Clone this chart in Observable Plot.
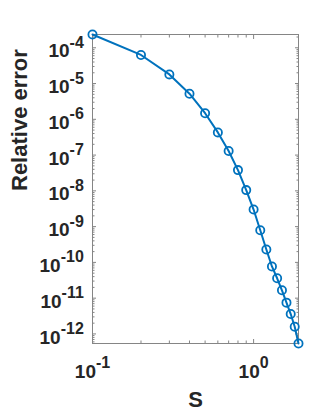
<!DOCTYPE html>
<html>
<head>
<meta charset="utf-8">
<script src="https://cdn.jsdelivr.net/npm/d3@7"></script>
<script src="https://cdn.jsdelivr.net/npm/@observablehq/plot@0.6"></script>
<style>
  html, body { margin: 0; padding: 0; background: #fff; }
  #chart { width: 332px; height: 416px; }
</style>
</head>
<body>
<div id="chart"></div>
<script>
// ---- data ----
const S = [0.1, 0.2, 0.3, 0.4, 0.5, 0.6, 0.7, 0.8, 0.9, 1.0, 1.1, 1.2, 1.3, 1.4, 1.5, 1.6, 1.7, 1.8, 1.9];
const relErr = [2.35e-4, 6.3e-5, 1.8e-5, 5.2e-6, 1.48e-6, 4.3e-7, 1.3e-7, 3.8e-8, 1.05e-8, 3.0e-9,
                7.9e-10, 2.3e-10, 7.7e-11, 3.6e-11, 1.66e-11, 7.5e-12, 3.6e-12, 1.58e-12, 5.4e-13];
const xTicks = [0.1, 1];
const yTicks = [1e-12, 1e-11, 1e-10, 1e-9, 1e-8, 1e-7, 1e-6, 1e-5, 1e-4];
const xLabel = "S";
const yLabel = "Relative error";

const data = S.map((s, i) => ({S: s, err: relErr[i]}));
const xDomain = d3.extent(S);
const yDomain = d3.extent(relErr);

// minor ticks of the log axes (2..9 times each decade, inside the domain)
const minorOf = (dom, d0, d1) => {
  const out = [];
  for (let d = d0; d <= d1; d++) for (let k = 2; k <= 9; k++) {
    const v = k * Math.pow(10, d);
    if (v > dom[0] && v < dom[1]) out.push(v);
  }
  return out;
};
const xMinor = minorOf(xDomain, -1, 0);
const yMinor = minorOf(yDomain, -13, -4);

const fmt = d => "10^" + Math.round(Math.log10(d));
const axisCol = "#858585";
const textCol = "#262626";
const blue = "#0072BD";

const chart = Plot.plot({
  width: 332,
  height: 416,
  marginLeft: 92,
  marginRight: 34,
  marginTop: 34,
  marginBottom: 73,
  style: {fontFamily: "'Liberation Sans', Arial, Helvetica, sans-serif", background: "#fff"},
  x: {type: "log", domain: xDomain},
  y: {type: "log", domain: yDomain},
  marks: [
    // inward ticks, all four sides
    Plot.axisY(yTicks, {anchor: "left", tickSize: -4, fill: "none", stroke: axisCol, label: null}),
    Plot.axisY(yTicks, {anchor: "right", tickSize: -4, fill: "none", stroke: axisCol, label: null}),
    Plot.axisY(yMinor, {anchor: "left", tickSize: -2.5, fill: "none", stroke: axisCol, label: null}),
    Plot.axisY(yMinor, {anchor: "right", tickSize: -2.5, fill: "none", stroke: axisCol, label: null}),
    Plot.axisX(xTicks, {anchor: "bottom", tickSize: -4, fill: "none", stroke: axisCol, label: null}),
    Plot.axisX(xTicks, {anchor: "top", tickSize: -4, fill: "none", stroke: axisCol, label: null}),
    Plot.axisX(xMinor, {anchor: "bottom", tickSize: -2.5, fill: "none", stroke: axisCol, label: null}),
    Plot.axisX(xMinor, {anchor: "top", tickSize: -2.5, fill: "none", stroke: axisCol, label: null}),
    // tick labels
    Plot.axisY(yTicks, {anchor: "left", tickSize: 0, tickPadding: 8.7, tickFormat: fmt,
      fontSize: 19, fontWeight: "bold", fill: textCol, dy: 3.5, label: null}),
    Plot.axisX(xTicks, {anchor: "bottom", tickSize: 0, tickPadding: 20.5, tickFormat: fmt,
      fontSize: 19, fontWeight: "bold", fill: textCol, label: null}),
    Plot.frame({stroke: axisCol, strokeWidth: 1}),
    // axis titles
    Plot.text([yLabel], {text: d => d, frameAnchor: "left", rotate: -90, dx: -66, dy: 2,
      lineAnchor: "bottom", fontSize: 22, fontWeight: "bold", fill: textCol}),
    Plot.text([xLabel], {text: d => d, frameAnchor: "bottom", dy: 63.3,
      lineAnchor: "bottom", fontSize: 22, fontWeight: "bold", fill: textCol}),
    // data
    Plot.line(data, {x: "S", y: "err", stroke: blue, strokeWidth: 2}),
    Plot.dot(data, {x: "S", y: "err", r: 4.1, stroke: blue, strokeWidth: 1.8, fill: "none"})
  ]
});

// turn "10^-4" labels into 10 with a raised exponent
const NS = "http://www.w3.org/2000/svg";
chart.querySelectorAll('g[aria-label$="tick label"] text').forEach(t => {
  const m = t.textContent.match(/^10\^(.+)$/);
  if (!m) return;
  t.textContent = "";
  const base = document.createElementNS(NS, "tspan");
  base.textContent = "10";
  const sup = document.createElementNS(NS, "tspan");
  sup.setAttribute("dy", "-9.5");
  sup.setAttribute("font-size", "16");
  sup.textContent = m[1];
  t.append(base, sup);
});

document.getElementById("chart").append(chart);
</script>
</body>
</html>
